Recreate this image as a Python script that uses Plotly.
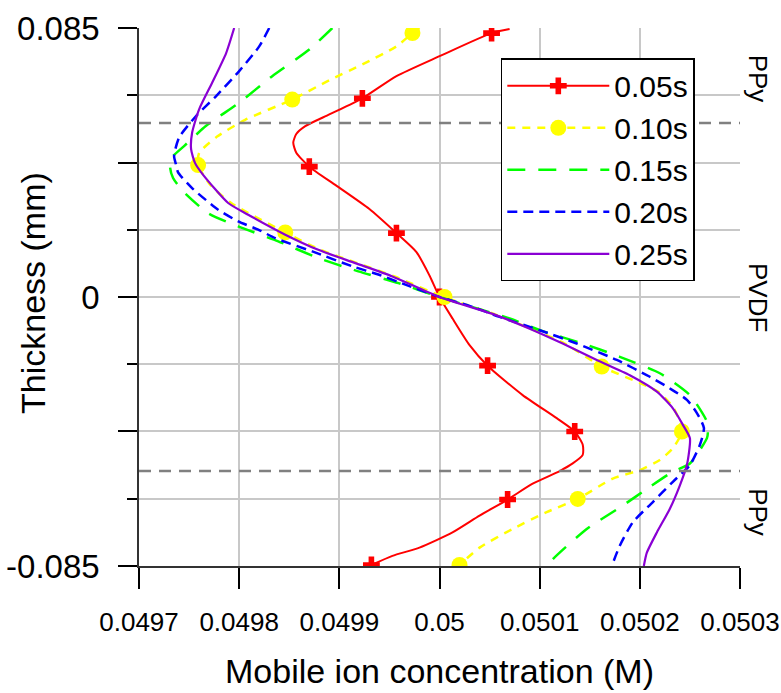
import plotly.graph_objects as go

# ---------------- axis ticks ----------------
x_tick_vals = [0.0497, 0.0498, 0.0499, 0.05, 0.0501, 0.0502, 0.0503]
x_tick_text = ["0.0497", "0.0498", "0.0499", "0.05", "0.0501", "0.0502", "0.0503"]
y_tick_vals = [-0.085, -0.0425, 0.0, 0.0425, 0.085]
y_tick_text = ["-0.085", "", "0", "", "0.085"]
y_minor_vals = [-0.06375, -0.02125, 0.02125, 0.06375]

# layer interfaces and labels
interface_y = [0.055, -0.055]
layer_labels = ["PPy", "PVDF", "PPy"]
layer_label_y = [0.069, 0.0, -0.068]

# ---------------- series data (thickness y, concentration x) ----------------
# 0.05 s
y_005 = [0.0847, 0.0834, 0.0761, 0.0698, 0.0628, 0.0577, 0.0540, 0.0515, 0.0488, 0.0456, 0.0412,
         0.0352, 0.0278, 0.0202, 0.0142, 0.0068, 0.0, -0.0068, -0.0152, -0.0217, -0.0310,
         -0.0383, -0.0425, -0.0467, -0.0499, -0.0526, -0.0550, -0.0590, -0.0640, -0.0691,
         -0.0744, -0.0792, -0.0818, -0.0847]
x_005 = [0.050070, 0.050052, 0.050000, 0.049957, 0.049923, 0.049890, 0.049866, 0.049857, 0.049854,
         0.049857, 0.049870, 0.049897, 0.049930, 0.049957, 0.049977, 0.049990, 0.050000,
         0.050013, 0.050030, 0.050048, 0.050083, 0.050117, 0.050135, 0.050143, 0.050143,
         0.050133, 0.050120, 0.050093, 0.050068, 0.050040, 0.050013, 0.049980, 0.049953,
         0.049932]
y_005_m = [0.0834, 0.0628, 0.0412, 0.0202, 0.0, -0.0217, -0.0425, -0.0640, -0.0847]
x_005_m = [0.050052, 0.049923, 0.049870, 0.049957, 0.050000, 0.050048, 0.050135, 0.050068, 0.049932]

# 0.10 s
y_010 = [0.0850, 0.0834, 0.0792, 0.0735, 0.0685, 0.0624, 0.0560, 0.0507, 0.0455, 0.0417,
         0.0355, 0.0297, 0.0204, 0.0149, 0.0107, 0.0065, 0.0, -0.0058, -0.0100, -0.0147,
         -0.0220, -0.0299, -0.0352, -0.0425, -0.0478, -0.0515, -0.0547, -0.0574, -0.0638,
         -0.0680, -0.0733, -0.0792, -0.0847]
x_010 = [0.049980, 0.049973, 0.049957, 0.049923, 0.049890, 0.049853, 0.049806, 0.049778,
         0.049760, 0.049759, 0.049771, 0.049792, 0.049846, 0.049881, 0.049918, 0.049955,
         0.050004, 0.050058, 0.050091, 0.050125, 0.050162, 0.050218, 0.050234, 0.050242,
         0.050233, 0.050220, 0.050200, 0.050173, 0.050138, 0.050107, 0.050073, 0.050040,
         0.050020]
y_010_m = [0.0834, 0.0624, 0.0417, 0.0204, 0.0, -0.0220, -0.0425, -0.0638, -0.0847]
x_010_m = [0.049973, 0.049853, 0.049759, 0.049846, 0.050005, 0.050162, 0.050242, 0.050138, 0.050020]

# 0.15 s
y_015 = [0.0850, 0.0782, 0.0698, 0.0614, 0.0541, 0.0477, 0.0441, 0.0410, 0.0376, 0.0334,
         0.0265, 0.0223, 0.0176, 0.0123, 0.0081, 0.0044, 0.0, -0.0068, -0.0108, -0.0147,
         -0.0189, -0.0241, -0.0310, -0.0394, -0.0425, -0.0446, -0.0526, -0.0552, -0.0600,
         -0.0659, -0.0733, -0.0829, -0.0850]
x_015 = [0.049893, 0.049870, 0.049833, 0.049800, 0.049767, 0.049745, 0.049733, 0.049731,
         0.049734, 0.049744, 0.049769, 0.049799, 0.049839, 0.049879, 0.049919, 0.049959,
         0.050000, 0.050070, 0.050103, 0.050143, 0.050180, 0.050220, 0.050250, 0.050267,
         0.050268, 0.050267, 0.050250, 0.050233, 0.050210, 0.050183, 0.050147, 0.050113,
         0.050108]

# 0.20 s
y_020 = [0.0850, 0.0792, 0.0714, 0.0635, 0.0572, 0.0504, 0.0446, 0.0418, 0.0394, 0.0344,
         0.0276, 0.0239, 0.0213, 0.0186, 0.0144, 0.0097, 0.0071, 0.0039, 0.0, -0.0028,
         -0.0063, -0.0105, -0.0147, -0.0199, -0.0252, -0.0289, -0.0325, -0.0367, -0.0414,
         -0.0467, -0.0531, -0.0584, -0.0648, -0.0712, -0.0786, -0.0850]
x_020 = [0.049830, 0.049820, 0.049800, 0.049777, 0.049757, 0.049740, 0.049735, 0.049737,
         0.049739, 0.049753, 0.049779, 0.049799, 0.049819, 0.049836, 0.049873, 0.049913,
         0.049939, 0.049966, 0.050000, 0.050030, 0.050060, 0.050100, 0.050137, 0.050177,
         0.050210, 0.050230, 0.050247, 0.050257, 0.050264, 0.050260, 0.050250, 0.050233,
         0.050213, 0.050193, 0.050180, 0.050172]

# 0.25 s
y_025 = [0.0850, 0.0771, 0.0677, 0.0593, 0.0519, 0.0467, 0.0423, 0.0386, 0.0297, 0.0260,
         0.0197, 0.0149, 0.0107, 0.0065, 0.0, -0.0058, -0.0100, -0.0147, -0.0199, -0.0247,
         -0.0299, -0.0352, -0.0404, -0.0446, -0.0531, -0.0595, -0.0669, -0.0744, -0.0808,
         -0.0850]
x_025 = [0.049795, 0.049787, 0.049773, 0.049760, 0.049753, 0.049752, 0.049756, 0.049764,
         0.049789, 0.049809, 0.049846, 0.049879, 0.049916, 0.049953, 0.050000, 0.050057,
         0.050090, 0.050123, 0.050157, 0.050190, 0.050217, 0.050233, 0.050243, 0.050250,
         0.050247, 0.050240, 0.050230, 0.050217, 0.050207, 0.050204]

names = ["0.05s", "0.10s", "0.15s", "0.20s", "0.25s"]
colors = ["#FF0000", "#FFFF00", "#00FF00", "#0000FF", "#8A00D4"]
dashes = ["solid", "8px,7px", "18px,13px", "10px,6px", "solid"]
widths = [2, 2.5, 2.5, 2.5, 2.2]

FONT = "Liberation Sans, Arial, sans-serif"

fig = go.Figure()

series = [(x_005, y_005), (x_010, y_010), (x_015, y_015), (x_020, y_020), (x_025, y_025)]
markers = {0: (x_005_m, y_005_m, "cross", 14), 1: (x_010_m, y_010_m, "circle", 16)}

for i, (xs, ys) in enumerate(series):
    fig.add_trace(go.Scatter(
        x=xs, y=ys, mode="lines",
        line=dict(color=colors[i], width=widths[i], dash=dashes[i], shape="spline", smoothing=0.6),
        showlegend=False, legendgroup=names[i], hoverinfo="skip"))
    if i in markers:
        mx, my, sym, sz = markers[i]
        fig.add_trace(go.Scatter(
            x=mx, y=my, mode="markers",
            marker=dict(symbol=sym, size=sz, color=colors[i], line=dict(width=0)),
            showlegend=False, legendgroup=names[i], hoverinfo="skip"))

# legend-only entries
for i in range(5):
    if i in markers:
        _, _, sym, sz = markers[i]
        fig.add_trace(go.Scatter(
            x=[None], y=[None], mode="lines+markers", name=names[i], legendgroup=names[i],
            line=dict(color=colors[i], width=widths[i], dash=dashes[i]),
            marker=dict(symbol=sym, size=sz, color=colors[i], line=dict(width=0))))
    else:
        fig.add_trace(go.Scatter(
            x=[None], y=[None], mode="lines", name=names[i], legendgroup=names[i],
            line=dict(color=colors[i], width=widths[i], dash=dashes[i])))

# interface dashed lines
for yv in interface_y:
    fig.add_shape(type="line", xref="paper", x0=0, x1=1, yref="y", y0=yv, y1=yv,
                  line=dict(color="#808080", width=2.5, dash="12px,8px"), layer="above")

# layer labels on the right
for lab, yv in zip(layer_labels, layer_label_y):
    fig.add_annotation(text=lab, xref="paper", x=1.03, yref="y", y=yv, showarrow=False,
                       textangle=90, xanchor="center", yanchor="middle", xshift=0,
                       font=dict(family=FONT, size=26, color="black"))

# axis titles
fig.add_annotation(text="Thickness (mm)", xref="paper", x=-0.1764, yref="paper", y=0.5074,
                   showarrow=False, textangle=-90, xanchor="center", yanchor="middle",
                   font=dict(family=FONT, size=34, color="black"))
fig.add_annotation(text="Mobile ion concentration (M)", xref="paper", x=0.5, yref="paper", y=-0.195,
                   showarrow=False, xanchor="center", yanchor="middle",
                   font=dict(family=FONT, size=34, color="black"))

fig.update_layout(
    width=781, height=693,
    margin=dict(l=139, r=41, t=28, b=127, pad=0, autoexpand=False),
    paper_bgcolor="white", plot_bgcolor="white",
    font=dict(family=FONT, color="black"),
    legend=dict(x=0.602, y=0.9437, xanchor="left", yanchor="top",
                bgcolor="white", bordercolor="black", borderwidth=1.5,
                font=dict(family=FONT, size=30, color="black"),
                itemwidth=102, tracegroupgap=0),
)

fig.update_xaxes(
    range=[0.04969999, 0.05030001], tickmode="array", tickvals=x_tick_vals, ticktext=x_tick_text,
    ticks="outside", ticklen=21, tickwidth=1.5, tickcolor="black", automargin=False,
    showline=True, linecolor="#333333", linewidth=1.5, mirror=False,
    showgrid=True, gridcolor="#C8C8C8", gridwidth=1.5, zeroline=False,
    tickfont=dict(family=FONT, size=26, color="black"), ticklabelstandoff=11,
)
fig.update_yaxes(
    range=[-0.08501, 0.08501], tickmode="array", tickvals=y_tick_vals, ticktext=y_tick_text,
    ticks="outside", ticklen=19, tickwidth=1.5, tickcolor="black", automargin=False,
    showline=True, linecolor="#333333", linewidth=1.5, mirror=False,
    showgrid=True, gridcolor="#C8C8C8", gridwidth=1.5, zeroline=False,
    tickfont=dict(family=FONT, size=33, color="black"), ticklabelstandoff=12,
    minor=dict(tickmode="array", tickvals=y_minor_vals, ticks="outside", ticklen=10,
               tickwidth=1.5, tickcolor="black", showgrid=True, gridcolor="#C8C8C8", gridwidth=1.5),
)

fig.write_html("out.html")
